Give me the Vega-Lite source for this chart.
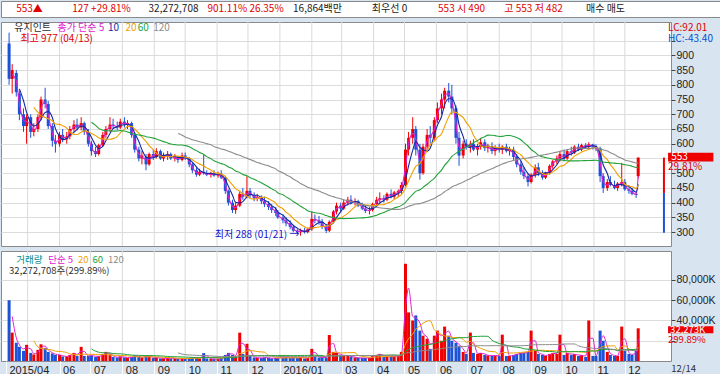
{
"$schema":"https://vega.github.io/schema/vega-lite/v6.json",
"background":"#d9e4f1",
"padding":0,
"spacing":3,
"resolve":{"scale":{"color":"independent"}},
"config":{"view":{"stroke":"#8a8a8a","fill":"#ffffff"},"font":"Noto Sans CJK KR","axis":{"labelFont":"Liberation Sans","labelFontSize":10.5,"labelColor":"#222"}},
"datasets":{
"months":[{"d":"2015-05-01"},{"d":"2015-06-01"},{"d":"2015-07-01"},{"d":"2015-08-01"},{"d":"2015-09-01"},{"d":"2015-10-01"},{"d":"2015-11-01"},{"d":"2015-12-01"},{"d":"2016-01-01"},{"d":"2016-02-01"},{"d":"2016-03-01"},{"d":"2016-04-01"},{"d":"2016-05-01"},{"d":"2016-06-01"},{"d":"2016-07-01"},{"d":"2016-08-01"},{"d":"2016-09-01"},{"d":"2016-10-01"},{"d":"2016-11-01"},{"d":"2016-12-01"}],
"px":[
{"d":"2015-04-13","o":940,"h":977,"l":800,"c":820,"v":60000},
{"d":"2015-04-16","o":820,"h":870,"l":770,"c":850,"v":28000},
{"d":"2015-04-20","o":840,"h":850,"l":760,"c":775,"v":18000},
{"d":"2015-04-23","o":770,"h":780,"l":680,"c":700,"v":14000},
{"d":"2015-04-27","o":700,"h":720,"l":640,"c":660,"v":10000},
{"d":"2015-04-30","o":660,"h":700,"l":600,"c":690,"v":16000},
{"d":"2015-05-04","o":690,"h":700,"l":620,"c":640,"v":8000},
{"d":"2015-05-07","o":640,"h":670,"l":625,"c":650,"v":6500},
{"d":"2015-05-11","o":650,"h":700,"l":640,"c":690,"v":11000},
{"d":"2015-05-14","o":690,"h":760,"l":680,"c":750,"v":16500},
{"d":"2015-05-18","o":750,"h":790,"l":720,"c":735,"v":13000},
{"d":"2015-05-21","o":735,"h":745,"l":650,"c":660,"v":9000},
{"d":"2015-05-25","o":660,"h":670,"l":590,"c":610,"v":7500},
{"d":"2015-05-28","o":610,"h":630,"l":570,"c":600,"v":6000},
{"d":"2015-06-01","o":600,"h":640,"l":590,"c":630,"v":6000},
{"d":"2015-06-04","o":630,"h":650,"l":605,"c":615,"v":4500},
{"d":"2015-06-08","o":615,"h":640,"l":600,"c":625,"v":4500},
{"d":"2015-06-11","o":625,"h":660,"l":615,"c":650,"v":6000},
{"d":"2015-06-15","o":650,"h":680,"l":640,"c":665,"v":8000},
{"d":"2015-06-18","o":665,"h":685,"l":645,"c":655,"v":5000},
{"d":"2015-06-22","o":655,"h":690,"l":645,"c":670,"v":14000},
{"d":"2015-06-25","o":670,"h":675,"l":630,"c":640,"v":5000},
{"d":"2015-06-29","o":640,"h":650,"l":590,"c":600,"v":5000},
{"d":"2015-07-02","o":600,"h":610,"l":560,"c":575,"v":5500},
{"d":"2015-07-06","o":575,"h":590,"l":555,"c":565,"v":4000},
{"d":"2015-07-09","o":565,"h":600,"l":560,"c":595,"v":5000},
{"d":"2015-07-13","o":595,"h":640,"l":590,"c":630,"v":7000},
{"d":"2015-07-16","o":630,"h":660,"l":620,"c":650,"v":9000},
{"d":"2015-07-20","o":650,"h":690,"l":640,"c":665,"v":6500},
{"d":"2015-07-23","o":665,"h":685,"l":650,"c":660,"v":4000},
{"d":"2015-07-27","o":660,"h":675,"l":645,"c":655,"v":3500},
{"d":"2015-07-30","o":655,"h":685,"l":650,"c":675,"v":4500},
{"d":"2015-08-03","o":675,"h":690,"l":655,"c":665,"v":3500},
{"d":"2015-08-06","o":665,"h":680,"l":650,"c":670,"v":3000},
{"d":"2015-08-10","o":670,"h":675,"l":620,"c":630,"v":4000},
{"d":"2015-08-13","o":630,"h":635,"l":570,"c":580,"v":5500},
{"d":"2015-08-17","o":580,"h":590,"l":540,"c":550,"v":4000},
{"d":"2015-08-20","o":550,"h":575,"l":530,"c":560,"v":3500},
{"d":"2015-08-24","o":555,"h":565,"l":510,"c":530,"v":5000},
{"d":"2015-08-27","o":530,"h":570,"l":525,"c":565,"v":4500},
{"d":"2015-08-31","o":565,"h":580,"l":545,"c":555,"v":3000},
{"d":"2015-09-03","o":555,"h":585,"l":550,"c":575,"v":3500},
{"d":"2015-09-07","o":575,"h":580,"l":545,"c":550,"v":2500},
{"d":"2015-09-10","o":550,"h":570,"l":540,"c":560,"v":2500},
{"d":"2015-09-14","o":560,"h":575,"l":545,"c":565,"v":3000},
{"d":"2015-09-17","o":565,"h":570,"l":545,"c":550,"v":2500},
{"d":"2015-09-21","o":550,"h":565,"l":540,"c":555,"v":2500},
{"d":"2015-09-24","o":555,"h":560,"l":535,"c":545,"v":2000},
{"d":"2015-09-28","o":545,"h":570,"l":540,"c":560,"v":2500},
{"d":"2015-10-01","o":560,"h":570,"l":545,"c":550,"v":2000},
{"d":"2015-10-05","o":550,"h":555,"l":520,"c":530,"v":3000},
{"d":"2015-10-08","o":530,"h":535,"l":500,"c":510,"v":3500},
{"d":"2015-10-12","o":510,"h":520,"l":488,"c":495,"v":3000},
{"d":"2015-10-15","o":495,"h":515,"l":490,"c":505,"v":2500},
{"d":"2015-10-19","o":505,"h":565,"l":495,"c":500,"v":7800},
{"d":"2015-10-22","o":500,"h":510,"l":490,"c":495,"v":2500},
{"d":"2015-10-26","o":495,"h":505,"l":485,"c":500,"v":2000},
{"d":"2015-10-29","o":500,"h":510,"l":488,"c":492,"v":2000},
{"d":"2015-11-02","o":492,"h":505,"l":485,"c":498,"v":2000},
{"d":"2015-11-05","o":498,"h":510,"l":480,"c":485,"v":2500},
{"d":"2015-11-09","o":485,"h":490,"l":430,"c":440,"v":6000},
{"d":"2015-11-12","o":440,"h":445,"l":390,"c":400,"v":8000},
{"d":"2015-11-16","o":400,"h":410,"l":365,"c":375,"v":6000},
{"d":"2015-11-19","o":375,"h":400,"l":362,"c":390,"v":5000},
{"d":"2015-11-23","o":390,"h":440,"l":385,"c":430,"v":28000},
{"d":"2015-11-26","o":430,"h":450,"l":410,"c":420,"v":7000},
{"d":"2015-11-30","o":420,"h":490,"l":415,"c":440,"v":17000},
{"d":"2015-12-03","o":440,"h":450,"l":415,"c":425,"v":5000},
{"d":"2015-12-07","o":425,"h":435,"l":405,"c":415,"v":3500},
{"d":"2015-12-10","o":415,"h":430,"l":405,"c":420,"v":3000},
{"d":"2015-12-14","o":420,"h":425,"l":395,"c":405,"v":3000},
{"d":"2015-12-17","o":405,"h":420,"l":385,"c":395,"v":3500},
{"d":"2015-12-21","o":395,"h":405,"l":375,"c":385,"v":3000},
{"d":"2015-12-24","o":385,"h":395,"l":365,"c":375,"v":2500},
{"d":"2015-12-28","o":375,"h":385,"l":355,"c":365,"v":3000},
{"d":"2015-12-30","o":365,"h":375,"l":345,"c":350,"v":3000},
{"d":"2016-01-04","o":350,"h":360,"l":330,"c":340,"v":3500},
{"d":"2016-01-07","o":340,"h":350,"l":320,"c":330,"v":3500},
{"d":"2016-01-11","o":330,"h":340,"l":310,"c":318,"v":3000},
{"d":"2016-01-14","o":318,"h":325,"l":300,"c":305,"v":3500},
{"d":"2016-01-18","o":305,"h":310,"l":295,"c":300,"v":3000},
{"d":"2016-01-21","o":300,"h":312,"l":288,"c":305,"v":4000},
{"d":"2016-01-25","o":305,"h":315,"l":295,"c":300,"v":2500},
{"d":"2016-01-28","o":300,"h":315,"l":296,"c":310,"v":3000},
{"d":"2016-02-01","o":310,"h":370,"l":305,"c":345,"v":12000},
{"d":"2016-02-04","o":345,"h":360,"l":330,"c":340,"v":5000},
{"d":"2016-02-08","o":340,"h":355,"l":325,"c":335,"v":3500},
{"d":"2016-02-11","o":335,"h":345,"l":310,"c":320,"v":3500},
{"d":"2016-02-15","o":320,"h":325,"l":297,"c":305,"v":3500},
{"d":"2016-02-18","o":305,"h":340,"l":300,"c":335,"v":25700},
{"d":"2016-02-22","o":335,"h":375,"l":330,"c":370,"v":9000},
{"d":"2016-02-25","o":370,"h":400,"l":360,"c":390,"v":8000},
{"d":"2016-02-29","o":390,"h":400,"l":370,"c":380,"v":5000},
{"d":"2016-03-03","o":380,"h":410,"l":375,"c":400,"v":6000},
{"d":"2016-03-07","o":400,"h":420,"l":390,"c":410,"v":5000},
{"d":"2016-03-10","o":410,"h":425,"l":395,"c":400,"v":4000},
{"d":"2016-03-14","o":400,"h":415,"l":390,"c":405,"v":3500},
{"d":"2016-03-17","o":405,"h":410,"l":385,"c":390,"v":3000},
{"d":"2016-03-21","o":390,"h":400,"l":375,"c":380,"v":3000},
{"d":"2016-03-24","o":380,"h":390,"l":365,"c":372,"v":3000},
{"d":"2016-03-28","o":372,"h":385,"l":360,"c":375,"v":3000},
{"d":"2016-03-31","o":375,"h":400,"l":370,"c":395,"v":5000},
{"d":"2016-04-04","o":395,"h":420,"l":390,"c":410,"v":6000},
{"d":"2016-04-07","o":410,"h":435,"l":400,"c":415,"v":7000},
{"d":"2016-04-11","o":415,"h":425,"l":400,"c":410,"v":4000},
{"d":"2016-04-14","o":410,"h":435,"l":405,"c":430,"v":5000},
{"d":"2016-04-18","o":430,"h":445,"l":415,"c":420,"v":4500},
{"d":"2016-04-21","o":420,"h":440,"l":412,"c":435,"v":4500},
{"d":"2016-04-25","o":435,"h":445,"l":420,"c":440,"v":5000},
{"d":"2016-04-28","o":440,"h":470,"l":430,"c":460,"v":9000},
{"d":"2016-05-02","o":460,"h":600,"l":455,"c":580,"v":96000},
{"d":"2016-05-05","o":580,"h":640,"l":560,"c":620,"v":48000},
{"d":"2016-05-09","o":620,"h":690,"l":600,"c":650,"v":40000},
{"d":"2016-05-12","o":650,"h":660,"l":560,"c":580,"v":45000},
{"d":"2016-05-16","o":580,"h":600,"l":478,"c":500,"v":30000},
{"d":"2016-05-19","o":500,"h":600,"l":495,"c":590,"v":25000},
{"d":"2016-05-23","o":590,"h":650,"l":575,"c":630,"v":22000},
{"d":"2016-05-26","o":630,"h":660,"l":600,"c":620,"v":12000},
{"d":"2016-05-30","o":620,"h":690,"l":610,"c":680,"v":25000},
{"d":"2016-06-02","o":680,"h":740,"l":670,"c":720,"v":30000},
{"d":"2016-06-06","o":720,"h":770,"l":700,"c":750,"v":20000},
{"d":"2016-06-09","o":750,"h":790,"l":720,"c":780,"v":34000},
{"d":"2016-06-13","o":780,"h":806,"l":740,"c":760,"v":25000},
{"d":"2016-06-16","o":760,"h":800,"l":700,"c":720,"v":20000},
{"d":"2016-06-20","o":720,"h":730,"l":600,"c":620,"v":18000},
{"d":"2016-06-23","o":620,"h":640,"l":525,"c":560,"v":15000},
{"d":"2016-06-27","o":560,"h":610,"l":550,"c":600,"v":9000},
{"d":"2016-06-30","o":600,"h":615,"l":580,"c":590,"v":7000},
{"d":"2016-07-04","o":590,"h":610,"l":570,"c":600,"v":28000},
{"d":"2016-07-07","o":600,"h":615,"l":575,"c":580,"v":8000},
{"d":"2016-07-11","o":580,"h":600,"l":560,"c":590,"v":7000},
{"d":"2016-07-14","o":590,"h":620,"l":580,"c":605,"v":8000},
{"d":"2016-07-18","o":605,"h":615,"l":575,"c":585,"v":6000},
{"d":"2016-07-21","o":585,"h":600,"l":570,"c":590,"v":5500},
{"d":"2016-07-25","o":590,"h":605,"l":565,"c":575,"v":5000},
{"d":"2016-07-28","o":575,"h":595,"l":560,"c":585,"v":5500},
{"d":"2016-08-01","o":585,"h":600,"l":570,"c":580,"v":5000},
{"d":"2016-08-04","o":580,"h":595,"l":565,"c":590,"v":26000},
{"d":"2016-08-08","o":590,"h":600,"l":570,"c":575,"v":5000},
{"d":"2016-08-11","o":575,"h":590,"l":560,"c":580,"v":5000},
{"d":"2016-08-15","o":580,"h":590,"l":545,"c":555,"v":6000},
{"d":"2016-08-18","o":555,"h":565,"l":520,"c":530,"v":7000},
{"d":"2016-08-22","o":530,"h":540,"l":495,"c":505,"v":8000},
{"d":"2016-08-25","o":505,"h":520,"l":480,"c":490,"v":8000},
{"d":"2016-08-29","o":490,"h":500,"l":455,"c":470,"v":9000},
{"d":"2016-09-01","o":470,"h":500,"l":465,"c":495,"v":30000},
{"d":"2016-09-05","o":495,"h":530,"l":485,"c":520,"v":10000},
{"d":"2016-09-08","o":520,"h":535,"l":490,"c":500,"v":7000},
{"d":"2016-09-12","o":500,"h":510,"l":478,"c":485,"v":6000},
{"d":"2016-09-15","o":485,"h":505,"l":480,"c":500,"v":5000},
{"d":"2016-09-19","o":500,"h":530,"l":495,"c":525,"v":7000},
{"d":"2016-09-22","o":525,"h":545,"l":515,"c":540,"v":8000},
{"d":"2016-09-26","o":540,"h":560,"l":530,"c":550,"v":7000},
{"d":"2016-09-29","o":550,"h":575,"l":540,"c":565,"v":26000},
{"d":"2016-10-03","o":565,"h":580,"l":540,"c":550,"v":6000},
{"d":"2016-10-06","o":550,"h":580,"l":545,"c":575,"v":8000},
{"d":"2016-10-10","o":575,"h":590,"l":560,"c":570,"v":6000},
{"d":"2016-10-13","o":570,"h":595,"l":565,"c":590,"v":7000},
{"d":"2016-10-17","o":590,"h":600,"l":575,"c":580,"v":5000},
{"d":"2016-10-20","o":580,"h":600,"l":575,"c":595,"v":6000},
{"d":"2016-10-24","o":595,"h":602,"l":585,"c":590,"v":4000},
{"d":"2016-10-27","o":590,"h":605,"l":580,"c":598,"v":40000},
{"d":"2016-10-31","o":598,"h":600,"l":580,"c":590,"v":5000},
{"d":"2016-11-03","o":590,"h":598,"l":575,"c":585,"v":5000},
{"d":"2016-11-07","o":585,"h":590,"l":470,"c":490,"v":30000},
{"d":"2016-11-10","o":490,"h":500,"l":433,"c":450,"v":20000},
{"d":"2016-11-14","o":450,"h":480,"l":440,"c":470,"v":9000},
{"d":"2016-11-17","o":470,"h":490,"l":455,"c":460,"v":6000},
{"d":"2016-11-21","o":460,"h":475,"l":445,"c":450,"v":5000},
{"d":"2016-11-24","o":450,"h":470,"l":440,"c":465,"v":5000},
{"d":"2016-11-28","o":465,"h":535,"l":455,"c":470,"v":34000},
{"d":"2016-12-01","o":470,"h":480,"l":440,"c":445,"v":10000},
{"d":"2016-12-05","o":445,"h":460,"l":430,"c":440,"v":7000},
{"d":"2016-12-08","o":440,"h":450,"l":425,"c":430,"v":6000},
{"d":"2016-12-12","o":430,"h":440,"l":416,"c":426,"v":10762},
{"d":"2016-12-14","o":490,"h":553,"l":482,"c":553,"v":32273}
]},
"vconcat":[
{
"width":720,"height":16,
"data":{"values":[
{"k":"g1","t":"553▲","kind":"up"},
{"k":"g2","t":"127 +29.81%","kind":"up"},
{"k":"g3","t":"32,272,708","kind":"plain"},
{"k":"g4","t":"901.11% 26.35%","kind":"up"},
{"k":"g5","t":"16,864백만","kind":"plain"},
{"k":"g6","t":"최우선   0","kind":"plain"},
{"k":"g7","t":"553 시 490","kind":"up"},
{"k":"g8","t":"고 553 저 482","kind":"up"},
{"k":"g9","t":"매수 매도","kind":"plain"}
]},
"mark":{"type":"text","fontSize":10},
"encoding":{
"x":{"field":"k","type":"nominal","sort":null,"scale":{"type":"point","padding":1.4545,"align":0.198},"axis":null},
"text":{"field":"t"},
"color":{"field":"kind","type":"nominal","scale":{"domain":["up","plain"],"range":["#e00000","#202020"]},"legend":null}
}
},
{
"width":670,"height":224,
"encoding":{"x":{"field":"d","type":"temporal","scale":{"domain":[{"year":2015,"month":4,"date":10},{"year":2017,"month":1,"date":10}]},"axis":null}},
"layer":[
{"data":{"name":"months"},"mark":{"type":"rule","color":"#dadada","strokeWidth":1},"encoding":{}},
{"data":{"name":"px"},"mark":{"type":"rule","strokeWidth":1},
 "encoding":{
  "y":{"field":"l","type":"quantitative","scale":{"domain":[253,1013],"nice":false,"zero":false},
   "axis":{"orient":"right","values":[300,350,400,450,500,550,600,650,700,750,800,850,900,950],"labelExpr":"datum.value==550||datum.value==950 ? '' : datum.label","grid":true,"gridColor":"#dcdcdc","tickSize":4,"tickColor":"#444","domain":false,"labelPadding":1,"title":null}},
  "y2":{"field":"h"},
  "color":{"condition":{"test":"datum.c >= datum.o","value":"#f00000"},"value":"#1c52d6"}}},
{"data":{"name":"px"},"mark":{"type":"bar","size":3},
 "encoding":{
  "y":{"field":"o","type":"quantitative","scale":{"domain":[253,1013],"nice":false,"zero":false},
   "axis":{"orient":"right","values":[300,350,400,450,500,550,600,650,700,750,800,850,900,950],"labelExpr":"datum.value==550||datum.value==950 ? '' : datum.label","grid":true,"gridColor":"#dcdcdc","tickSize":4,"tickColor":"#444","domain":false,"labelPadding":1,"title":null}},
  "y2":{"field":"c"},
  "color":{"condition":{"test":"datum.c >= datum.o","value":"#f00000"},"value":"#1c52d6"}}},
{"data":{"name":"px"},
 "transform":[
  {"window":[{"op":"mean","field":"c","as":"ma5"},{"op":"count","as":"n5"}],"frame":[-1,0],"sort":[{"field":"d"}]},
  {"window":[{"op":"mean","field":"c","as":"ma10"},{"op":"count","as":"n10"}],"frame":[-3,0],"sort":[{"field":"d"}]},
  {"window":[{"op":"mean","field":"c","as":"ma20"},{"op":"count","as":"n20"}],"frame":[-7,0],"sort":[{"field":"d"}]},
  {"window":[{"op":"mean","field":"c","as":"ma60"},{"op":"count","as":"n60"}],"frame":[-23,0],"sort":[{"field":"d"}]},
  {"window":[{"op":"mean","field":"c","as":"ma120"},{"op":"count","as":"n120"}],"frame":[-47,0],"sort":[{"field":"d"}]},
  {"fold":["ma5","ma10","ma20","ma60","ma120"],"as":["s","val"]},
  {"filter":"(datum.s=='ma5'&&datum.n5>=2)||(datum.s=='ma10'&&datum.n10>=4)||(datum.s=='ma20'&&datum.n20>=8)||(datum.s=='ma60'&&datum.n60>=24)||(datum.s=='ma120'&&datum.n120>=48)"}
 ],
 "mark":{"type":"line","strokeWidth":1.1,"interpolate":"monotone"},
 "encoding":{
  "y":{"field":"val","type":"quantitative","scale":{"domain":[253,1013],"nice":false,"zero":false},
   "axis":{"orient":"right","values":[300,350,400,450,500,550,600,650,700,750,800,850,900,950],"labelExpr":"datum.value==550||datum.value==950 ? '' : datum.label","grid":true,"gridColor":"#dcdcdc","tickSize":4,"tickColor":"#444","domain":false,"labelPadding":1,"title":null}},
  "color":{"field":"s","type":"nominal","scale":{"domain":["ma5","ma10","ma20","ma60","ma120","name","high","low","lc","hc","now","nowtxt","rate","rise","fall"],"range":["#e020d0","#1428a0","#f0a000","#22a33a","#8c8c8c","#303030","#e00000","#1010d0","#e00000","#0050d0","#ee0000","#ffffff","#e00000","#ee0000","#1c52d6"]},"legend":null}}},
{"data":{"values":[{"d":"2017-01-08","p":553,"p2":433,"s":"rise"},{"d":"2017-01-08","p":433,"p2":298,"s":"fall"}]},
 "mark":{"type":"rule","strokeWidth":2},
 "encoding":{
  "y":{"field":"p","type":"quantitative","scale":{"domain":[253,1013],"nice":false,"zero":false},
   "axis":{"orient":"right","values":[300,350,400,450,500,550,600,650,700,750,800,850,900,950],"labelExpr":"datum.value==550||datum.value==950 ? '' : datum.label","grid":true,"gridColor":"#dcdcdc","tickSize":4,"tickColor":"#444","domain":false,"labelPadding":1,"title":null}},
  "y2":{"field":"p2"},
  "color":{"field":"s","type":"nominal","scale":{"domain":["ma5","ma10","ma20","ma60","ma120","name","high","low","lc","hc","now","nowtxt","rate","rise","fall"],"range":["#e020d0","#1428a0","#f0a000","#22a33a","#8c8c8c","#303030","#e00000","#1010d0","#e00000","#0050d0","#ee0000","#ffffff","#e00000","#ee0000","#1c52d6"]},"legend":null}}},
{"data":{"values":[{"d":"2017-01-12","d2":"2017-02-25","p":569,"p2":540,"s":"now"}]},
 "mark":{"type":"rect"},
 "encoding":{
  "x2":{"field":"d2"},
  "y":{"field":"p","type":"quantitative","scale":{"domain":[253,1013],"nice":false,"zero":false},
   "axis":{"orient":"right","values":[300,350,400,450,500,550,600,650,700,750,800,850,900,950],"labelExpr":"datum.value==550||datum.value==950 ? '' : datum.label","grid":true,"gridColor":"#dcdcdc","tickSize":4,"tickColor":"#444","domain":false,"labelPadding":1,"title":null}},
  "y2":{"field":"p2"},
  "color":{"field":"s","type":"nominal","scale":{"domain":["ma5","ma10","ma20","ma60","ma120","name","high","low","lc","hc","now","nowtxt","rate","rise","fall"],"range":["#e020d0","#1428a0","#f0a000","#22a33a","#8c8c8c","#303030","#e00000","#1010d0","#e00000","#0050d0","#ee0000","#ffffff","#e00000","#ee0000","#1c52d6"]},"legend":null}}},
{"data":{"values":[
 {"d":"2015-04-18","p":994,"t":"유지인트","s":"name"},
 {"d":"2015-05-30","p":994,"t":"종가 단순 5","s":"ma5"},
 {"d":"2015-07-18","p":994,"t":"10","s":"ma10"},
 {"d":"2015-08-04","p":994,"t":"20","s":"ma20"},
 {"d":"2015-08-16","p":994,"t":"60","s":"ma60"},
 {"d":"2015-08-31","p":994,"t":"120","s":"ma120"},
 {"d":"2015-04-24","p":957,"t":"최고 977 (04/13)","s":"high"},
 {"d":"2017-01-12","p":993,"t":"LC:92.01","s":"lc"},
 {"d":"2017-01-12","p":956,"t":"HC:-43.40","s":"hc"},
 {"d":"2017-01-15","p":556,"t":"553","s":"nowtxt"},
 {"d":"2017-01-12","p":522,"t":"29.81%","s":"rate"}
 ]},
 "mark":{"type":"text","align":"left","baseline":"middle","fontSize":10},
 "encoding":{
  "y":{"field":"p","type":"quantitative","scale":{"domain":[253,1013],"nice":false,"zero":false},
   "axis":{"orient":"right","values":[300,350,400,450,500,550,600,650,700,750,800,850,900,950],"labelExpr":"datum.value==550||datum.value==950 ? '' : datum.label","grid":true,"gridColor":"#dcdcdc","tickSize":4,"tickColor":"#444","domain":false,"labelPadding":1,"title":null}},
  "text":{"field":"t"},
  "color":{"field":"s","type":"nominal","scale":{"domain":["ma5","ma10","ma20","ma60","ma120","name","high","low","lc","hc","now","nowtxt","rate","rise","fall"],"range":["#e020d0","#1428a0","#f0a000","#22a33a","#8c8c8c","#303030","#e00000","#1010d0","#e00000","#0050d0","#ee0000","#ffffff","#e00000","#ee0000","#1c52d6"]},"legend":null}}},
{"data":{"values":[{"d":"2016-01-20","p":291,"t":"최저 288 (01/21) →","s":"low"}]},
 "mark":{"type":"text","align":"right","baseline":"middle","fontSize":10},
 "encoding":{
  "y":{"field":"p","type":"quantitative","scale":{"domain":[253,1013],"nice":false,"zero":false},
   "axis":{"orient":"right","values":[300,350,400,450,500,550,600,650,700,750,800,850,900,950],"labelExpr":"datum.value==550||datum.value==950 ? '' : datum.label","grid":true,"gridColor":"#dcdcdc","tickSize":4,"tickColor":"#444","domain":false,"labelPadding":1,"title":null}},
  "text":{"field":"t"},
  "color":{"field":"s","type":"nominal","scale":{"domain":["ma5","ma10","ma20","ma60","ma120","name","high","low","lc","hc","now","nowtxt","rate","rise","fall"],"range":["#e020d0","#1428a0","#f0a000","#22a33a","#8c8c8c","#303030","#e00000","#1010d0","#e00000","#0050d0","#ee0000","#ffffff","#e00000","#ee0000","#1c52d6"]},"legend":null}}}
]
},
{
"width":670,"height":110,
"encoding":{"x":{"field":"d","type":"temporal","scale":{"domain":[{"year":2015,"month":4,"date":10},{"year":2017,"month":1,"date":10}]},
 "axis":{"values":[{"year":2015,"month":4,"date":10},{"year":2015,"month":6,"date":1},{"year":2015,"month":7,"date":1},{"year":2015,"month":8,"date":1},{"year":2015,"month":9,"date":1},{"year":2015,"month":10,"date":1},{"year":2015,"month":11,"date":1},{"year":2015,"month":12,"date":1},{"year":2016,"month":1,"date":1},{"year":2016,"month":3,"date":1},{"year":2016,"month":4,"date":1},{"year":2016,"month":5,"date":1},{"year":2016,"month":6,"date":1},{"year":2016,"month":7,"date":1},{"year":2016,"month":8,"date":1},{"year":2016,"month":9,"date":1},{"year":2016,"month":10,"date":1},{"year":2016,"month":11,"date":1},{"year":2016,"month":12,"date":1}],
  "labelExpr":"datum.value < datetime(2015,4,1) ? '2015/04' : (month(datum.value)==0 ? timeFormat(datum.value,'%Y/%m') : timeFormat(datum.value,'%m'))",
  "grid":false,"domain":false,"tickSize":17,"tickColor":"#ffffff","labelAlign":"left","labelBaseline":"top","labelPadding":-14,"labelOffset":3,"labelFlush":false,"labelOverlap":false,"labelBound":false,"labelFontSize":11,"title":null}}},
"layer":[
{"data":{"name":"months"},"mark":{"type":"rule","color":"#dadada","strokeWidth":1},"encoding":{}},
{"data":{"name":"px"},"mark":{"type":"bar","size":3},
 "encoding":{
  "y":{"field":"v","type":"quantitative","scale":{"domain":[0,108600],"nice":false,"zero":false},
   "axis":{"orient":"right","values":[20000,40000,60000,80000],"labelExpr":"datum.value==20000 ? '' : format(datum.value, ',') + 'K'","grid":true,"gridColor":"#dcdcdc","tickSize":4,"tickColor":"#444","domain":false,"labelPadding":1,"title":null}},
  "color":{"condition":{"test":"datum.c >= datum.o","value":"#f00000"},"value":"#1c52d6"}}},
{"data":{"name":"px"},
 "transform":[
  {"window":[{"op":"mean","field":"v","as":"ma5"},{"op":"count","as":"n5"}],"frame":[-1,0],"sort":[{"field":"d"}]},
  {"window":[{"op":"mean","field":"v","as":"ma20"},{"op":"count","as":"n20"}],"frame":[-7,0],"sort":[{"field":"d"}]},
  {"window":[{"op":"mean","field":"v","as":"ma60"},{"op":"count","as":"n60"}],"frame":[-23,0],"sort":[{"field":"d"}]},
  {"window":[{"op":"mean","field":"v","as":"ma120"},{"op":"count","as":"n120"}],"frame":[-47,0],"sort":[{"field":"d"}]},
  {"fold":["ma5","ma20","ma60","ma120"],"as":["s","val"]},
  {"filter":"(datum.s=='ma5'&&datum.n5>=2)||(datum.s=='ma20'&&datum.n20>=8)||(datum.s=='ma60'&&datum.n60>=24)||(datum.s=='ma120'&&datum.n120>=48)"}
 ],
 "mark":{"type":"line","strokeWidth":1,"interpolate":"monotone"},
 "encoding":{
  "y":{"field":"val","type":"quantitative","scale":{"domain":[0,108600],"nice":false,"zero":false},
   "axis":{"orient":"right","values":[20000,40000,60000,80000],"labelExpr":"datum.value==20000 ? '' : format(datum.value, ',') + 'K'","grid":true,"gridColor":"#dcdcdc","tickSize":4,"tickColor":"#444","domain":false,"labelPadding":1,"title":null}},
  "color":{"field":"s","type":"nominal","scale":{"domain":["ma5","ma20","ma60","ma120","vol","name","now","nowtxt","rate"],"range":["#e020d0","#f0a000","#22a33a","#8c8c8c","#008b8b","#303030","#ee0000","#ffffff","#e00000"]},"legend":null}}},
{"data":{"values":[{"d":"2017-01-12","d2":"2017-02-25","v":34300,"v2":27500,"s":"now"}]},
 "mark":{"type":"rect"},
 "encoding":{
  "x2":{"field":"d2"},
  "y":{"field":"v","type":"quantitative","scale":{"domain":[0,108600],"nice":false,"zero":false},
   "axis":{"orient":"right","values":[20000,40000,60000,80000],"labelExpr":"datum.value==20000 ? '' : format(datum.value, ',') + 'K'","grid":true,"gridColor":"#dcdcdc","tickSize":4,"tickColor":"#444","domain":false,"labelPadding":1,"title":null}},
  "y2":{"field":"v2"},
  "color":{"field":"s","type":"nominal","scale":{"domain":["ma5","ma20","ma60","ma120","vol","name","now","nowtxt","rate"],"range":["#e020d0","#f0a000","#22a33a","#8c8c8c","#008b8b","#303030","#ee0000","#ffffff","#e00000"]},"legend":null}}},
{"data":{"values":[
 {"d":"2015-04-20","v":99700,"t":"거래량","s":"vol"},
 {"d":"2015-05-21","v":99700,"t":"단순 5","s":"ma5"},
 {"d":"2015-06-19","v":99700,"t":"20","s":"ma20"},
 {"d":"2015-07-03","v":99700,"t":"60","s":"ma60"},
 {"d":"2015-07-18","v":99700,"t":"120","s":"ma120"},
 {"d":"2015-04-13","v":88600,"t":"32,272,708주(299.89%)","s":"name"},
 {"d":"2017-01-14","v":30900,"t":"32,273K","s":"nowtxt"},
 {"d":"2017-01-12","v":21200,"t":"299.89%","s":"rate"},
 {"d":"2017-01-15","v":-8000,"t":"12/14","s":"name"}
 ]},
 "mark":{"type":"text","align":"left","baseline":"middle","fontSize":9.5},
 "encoding":{
  "y":{"field":"v","type":"quantitative","scale":{"domain":[0,108600],"nice":false,"zero":false},
   "axis":{"orient":"right","values":[20000,40000,60000,80000],"labelExpr":"datum.value==20000 ? '' : format(datum.value, ',') + 'K'","grid":true,"gridColor":"#dcdcdc","tickSize":4,"tickColor":"#444","domain":false,"labelPadding":1,"title":null}},
  "text":{"field":"t"},
  "color":{"field":"s","type":"nominal","scale":{"domain":["ma5","ma20","ma60","ma120","vol","name","now","nowtxt","rate"],"range":["#e020d0","#f0a000","#22a33a","#8c8c8c","#008b8b","#303030","#ee0000","#ffffff","#e00000"]},"legend":null}}}
]
}
]
}
